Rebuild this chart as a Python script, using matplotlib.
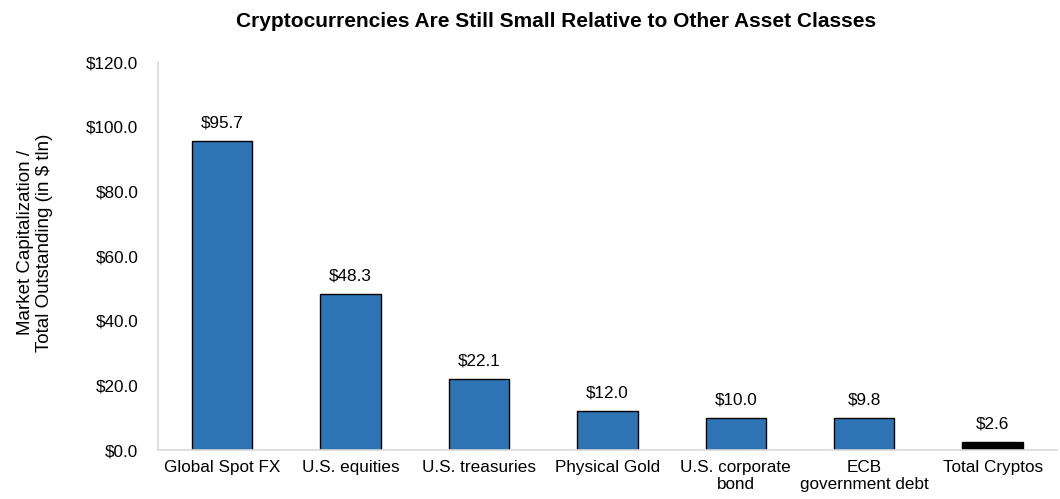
import matplotlib.pyplot as plt

plt.rcParams['font.family'] = ['Liberation Sans', 'DejaVu Sans']

categories = ["Global Spot FX", "U.S. equities", "U.S. treasuries", "Physical Gold",
              "U.S. corporate\nbond", "ECB\ngovernment debt", "Total Cryptos"]
values = [95.7, 48.3, 22.1, 12.0, 10.0, 9.8, 2.6]
colors = ["#2E74B5"] * 6 + ["#000000"]

fig = plt.figure(figsize=(10.6, 4.99), dpi=100)
ax = fig.add_axes([0.149, 0.098, 0.848, 0.777])

x = range(len(categories))
bars = ax.bar(x, values, width=0.47, color=colors, edgecolor="black", linewidth=1.0)

for rect, v in zip(bars, values):
    ax.text(rect.get_x() + rect.get_width() / 2, v + 3.3, f"${v:.1f}",
            ha="center", va="bottom", fontsize=12.3)

ax.set_xlim(-0.5, len(categories) - 0.5)
ax.set_ylim(0, 120)
ax.set_yticks(range(0, 121, 20))
ax.set_yticklabels([f"${t:.1f}" for t in range(0, 121, 20)], fontsize=12.3)
ax.set_xticks(list(x))
ax.set_xticklabels(categories, fontsize=12.3, linespacing=1.2)
ax.tick_params(axis="x", length=0, pad=7)
ax.tick_params(axis="y", length=0, pad=14)

for side in ["top", "right"]:
    ax.spines[side].set_visible(False)
for side in ["left", "bottom"]:
    ax.spines[side].set_color("#D9D9D9")
    ax.spines[side].set_linewidth(1.2)

# label anchor is its right edge when rotated
ax.set_ylabel("Market Capitalization /\nTotal Outstanding (in $ tln)", fontsize=13.5,
              linespacing=1.1)
ax.yaxis.set_label_coords(-0.117, 0.535)
fig.suptitle("Cryptocurrencies Are Still Small Relative to Other Asset Classes",
             x=0.525, y=0.976, fontsize=15, fontweight="bold")

fig.savefig("out.png", dpi=100)
